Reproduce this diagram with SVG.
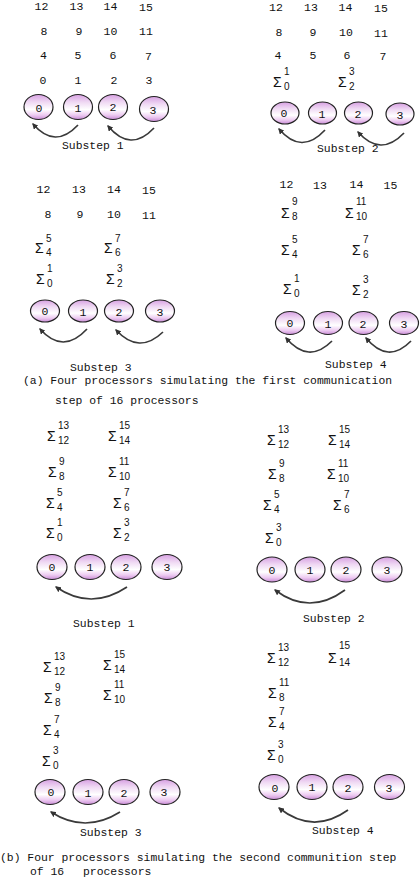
<svg xmlns="http://www.w3.org/2000/svg" width="420" height="888" viewBox="0 0 420 888">
<defs>
<linearGradient id="pg" x1="0" y1="0" x2="0" y2="1">
<stop offset="0" stop-color="#d7a0e2"/>
<stop offset="0.3" stop-color="#efd8f3"/>
<stop offset="0.6" stop-color="#ffffff"/>
<stop offset="0.82" stop-color="#edcbf1"/>
<stop offset="1" stop-color="#c98bd6"/>
</linearGradient>
<marker id="ah" viewBox="0 0 10 10" refX="8" refY="5" markerWidth="6" markerHeight="6" orient="auto" markerUnits="userSpaceOnUse">
<path d="M0,0 L10,5 L0,10 Z" fill="#333"/>
</marker>
</defs>
<style>
text{fill:#111}
.n{font-family:"Liberation Mono",monospace;font-size:11.5px;text-anchor:middle}
.t{font-family:"Liberation Mono",monospace;font-size:11.4px}
.s{font-family:"Liberation Sans",Arial,sans-serif;font-size:14px}
.c{font-family:"Liberation Sans",Arial,sans-serif;font-size:10px}
.e{fill:url(#pg);stroke:#222;stroke-width:1.2}
.a{fill:none;stroke:#3a3a3a;stroke-width:1.7;marker-end:url(#ah)}
</style>

<!-- (a) Substep 1 -->
<g id="a1-data">
<text class="n" x="41.5" y="10">12</text><text class="n" x="76.5" y="10">13</text><text class="n" x="110.5" y="10">14</text><text class="n" x="146" y="11">15</text>
<text class="n" x="44" y="34.5">8</text><text class="n" x="79" y="34.5">9</text><text class="n" x="110.5" y="34.5">10</text><text class="n" x="146" y="35">11</text>
<text class="n" x="43.5" y="59">4</text><text class="n" x="78" y="59">5</text><text class="n" x="113" y="59">6</text><text class="n" x="148.5" y="59.5">7</text>
<text class="n" x="43" y="84">0</text><text class="n" x="78" y="84">1</text><text class="n" x="114" y="84">2</text><text class="n" x="149" y="84">3</text>
</g>
<g id="a1-p0"><ellipse class="e" cx="38.5" cy="107" rx="14.5" ry="12.5"/><text class="n" x="39" y="112">0</text></g>
<g id="a1-p1"><ellipse class="e" cx="78" cy="107" rx="14.5" ry="12.5"/><text class="n" x="78" y="112">1</text></g>
<g id="a1-p2"><ellipse class="e" cx="113" cy="107" rx="14.5" ry="12.5"/><text class="n" x="113" y="111">2</text></g>
<g id="a1-p3"><ellipse class="e" cx="154" cy="109" rx="14.5" ry="12.5"/><text class="n" x="153" y="114">3</text></g>
<text class="t" x="62" y="149">Substep 1</text>

<!-- (a) Substep 2 -->
<g id="a2-data">
<text class="n" x="276" y="10.5">12</text><text class="n" x="311" y="10.5">13</text><text class="n" x="345.5" y="10.5">14</text><text class="n" x="381" y="12">15</text>
<text class="n" x="279" y="36">8</text><text class="n" x="313" y="36">9</text><text class="n" x="346" y="36">10</text><text class="n" x="381" y="37">11</text>
<text class="n" x="278" y="59">4</text><text class="n" x="313" y="59">5</text><text class="n" x="347" y="59">6</text><text class="n" x="383" y="60">7</text>
<text class="s" x="273" y="87">Σ<tspan class="c" x="284" y="75">1</tspan><tspan class="c" x="284" y="90">0</tspan></text>
<text class="s" x="338" y="87">Σ<tspan class="c" x="349" y="75">3</tspan><tspan class="c" x="349" y="90">2</tspan></text>
</g>
<g id="a2-p0"><ellipse class="e" cx="285" cy="113" rx="14" ry="11"/><text class="n" x="284" y="117">0</text></g>
<g id="a2-p1"><ellipse class="e" cx="322.5" cy="113" rx="14" ry="11"/><text class="n" x="322" y="117.5">1</text></g>
<g id="a2-p2"><ellipse class="e" cx="358.5" cy="113" rx="14" ry="11"/><text class="n" x="358" y="118">2</text></g>
<g id="a2-p3"><ellipse class="e" cx="400" cy="114" rx="14" ry="11"/><text class="n" x="400" y="118.5">3</text></g>
<text class="t" x="317" y="152">Substep 2</text>

<!-- (a) Substep 3 -->
<g id="a3-data">
<text class="n" x="43.5" y="193">12</text><text class="n" x="79" y="193">13</text><text class="n" x="114" y="193">14</text><text class="n" x="149" y="194">15</text>
<text class="n" x="48" y="218">8</text><text class="n" x="80" y="218">9</text><text class="n" x="114" y="218">10</text><text class="n" x="149" y="218.5">11</text>
<text class="s" x="35" y="253">Σ<tspan class="c" x="46" y="242">5</tspan><tspan class="c" x="46" y="256">4</tspan></text>
<text class="s" x="104" y="253">Σ<tspan class="c" x="115" y="242">7</tspan><tspan class="c" x="115" y="256">6</tspan></text>
<text class="s" x="36" y="284">Σ<tspan class="c" x="47" y="272">1</tspan><tspan class="c" x="47" y="287">0</tspan></text>
<text class="s" x="106" y="284">Σ<tspan class="c" x="117" y="272">3</tspan><tspan class="c" x="117" y="287">2</tspan></text>
</g>
<g id="a3-p0"><ellipse class="e" cx="45" cy="311" rx="14.5" ry="11"/><text class="n" x="45" y="315">0</text></g>
<g id="a3-p1"><ellipse class="e" cx="83" cy="311" rx="14.5" ry="11"/><text class="n" x="83" y="315.5">1</text></g>
<g id="a3-p2"><ellipse class="e" cx="119" cy="311" rx="14.5" ry="11"/><text class="n" x="119" y="315.5">2</text></g>
<g id="a3-p3"><ellipse class="e" cx="160" cy="311" rx="14.5" ry="11"/><text class="n" x="160" y="315.5">3</text></g>
<text class="t" x="70" y="371">Substep 3</text>

<!-- (a) Substep 4 -->
<g id="a4-data">
<text class="n" x="286.5" y="188">12</text><text class="n" x="320" y="189">13</text><text class="n" x="356.5" y="188">14</text><text class="n" x="390.5" y="189">15</text>
<text class="s" x="281" y="218">Σ<tspan class="c" x="292" y="205">9</tspan><tspan class="c" x="292" y="220">8</tspan></text>
<text class="s" x="345" y="218">Σ<tspan class="c" x="356" y="205">11</tspan><tspan class="c" x="356" y="220">10</tspan></text>
<text class="s" x="281" y="255">Σ<tspan class="c" x="292" y="243">5</tspan><tspan class="c" x="292" y="258">4</tspan></text>
<text class="s" x="352" y="255">Σ<tspan class="c" x="363" y="243">7</tspan><tspan class="c" x="363" y="258">6</tspan></text>
<text class="s" x="283" y="294">Σ<tspan class="c" x="294" y="282">1</tspan><tspan class="c" x="294" y="297">0</tspan></text>
<text class="s" x="352" y="295">Σ<tspan class="c" x="363" y="283">3</tspan><tspan class="c" x="363" y="298">2</tspan></text>
</g>
<g id="a4-p0"><ellipse class="e" cx="290" cy="323" rx="14.5" ry="11.5"/><text class="n" x="290" y="327">0</text></g>
<g id="a4-p1"><ellipse class="e" cx="328" cy="323" rx="14.5" ry="11.5"/><text class="n" x="328" y="327.5">1</text></g>
<g id="a4-p2"><ellipse class="e" cx="363.5" cy="323" rx="14.5" ry="11.5"/><text class="n" x="363" y="327.5">2</text></g>
<g id="a4-p3"><ellipse class="e" cx="404" cy="323" rx="14.5" ry="11.5"/><text class="n" x="404" y="327.5">3</text></g>
<text class="t" x="325" y="368">Substep 4</text>

<g id="caption-a">
<text class="t" x="23" y="384">(a) Four processors simulating the first communication</text>
<text class="t" x="55" y="404">step of 16 processors</text>
</g>

<!-- (b) Substep 1 -->
<g id="b1-data">
<text class="s" x="47" y="441">Σ<tspan class="c" x="58" y="429">13</tspan><tspan class="c" x="58" y="444">12</tspan></text>
<text class="s" x="108" y="441">Σ<tspan class="c" x="119" y="429">15</tspan><tspan class="c" x="119" y="444">14</tspan></text>
<text class="s" x="48" y="477">Σ<tspan class="c" x="59" y="465">9</tspan><tspan class="c" x="59" y="480">8</tspan></text>
<text class="s" x="108" y="477">Σ<tspan class="c" x="119" y="465">11</tspan><tspan class="c" x="119" y="480">10</tspan></text>
<text class="s" x="46" y="508">Σ<tspan class="c" x="57" y="496">5</tspan><tspan class="c" x="57" y="511">4</tspan></text>
<text class="s" x="113" y="508">Σ<tspan class="c" x="124" y="496">7</tspan><tspan class="c" x="124" y="511">6</tspan></text>
<text class="s" x="46" y="538">Σ<tspan class="c" x="57" y="526">1</tspan><tspan class="c" x="57" y="541">0</tspan></text>
<text class="s" x="113" y="538">Σ<tspan class="c" x="124" y="526">3</tspan><tspan class="c" x="124" y="541">2</tspan></text>
</g>
<g id="b1-p0"><ellipse class="e" cx="52" cy="567" rx="15" ry="12.5"/><text class="n" x="52" y="571">0</text></g>
<g id="b1-p1"><ellipse class="e" cx="90" cy="567" rx="15" ry="12.5"/><text class="n" x="90" y="571">1</text></g>
<g id="b1-p2"><ellipse class="e" cx="126" cy="567" rx="15" ry="12.5"/><text class="n" x="126" y="571">2</text></g>
<g id="b1-p3"><ellipse class="e" cx="167" cy="567" rx="15" ry="12.5"/><text class="n" x="167" y="571">3</text></g>
<text class="t" x="73" y="627">Substep 1</text>

<!-- (b) Substep 2 -->
<g id="b2-data">
<text class="s" x="267" y="445">Σ<tspan class="c" x="278" y="433">13</tspan><tspan class="c" x="278" y="448">12</tspan></text>
<text class="s" x="328" y="445">Σ<tspan class="c" x="339" y="433">15</tspan><tspan class="c" x="339" y="448">14</tspan></text>
<text class="s" x="268" y="479">Σ<tspan class="c" x="279" y="467">9</tspan><tspan class="c" x="279" y="482">8</tspan></text>
<text class="s" x="327" y="479">Σ<tspan class="c" x="338" y="467">11</tspan><tspan class="c" x="338" y="482">10</tspan></text>
<text class="s" x="263" y="510">Σ<tspan class="c" x="274" y="498">5</tspan><tspan class="c" x="274" y="513">4</tspan></text>
<text class="s" x="333" y="510">Σ<tspan class="c" x="344" y="498">7</tspan><tspan class="c" x="344" y="513">6</tspan></text>
<text class="s" x="265" y="543">Σ<tspan class="c" x="276" y="531">3</tspan><tspan class="c" x="276" y="546">0</tspan></text>
</g>
<g id="b2-p0"><ellipse class="e" cx="272" cy="569.5" rx="15" ry="12.5"/><text class="n" x="272" y="574">0</text></g>
<g id="b2-p1"><ellipse class="e" cx="310" cy="569.5" rx="15" ry="12.5"/><text class="n" x="310" y="574">1</text></g>
<g id="b2-p2"><ellipse class="e" cx="346" cy="569.5" rx="15" ry="12.5"/><text class="n" x="346" y="574">2</text></g>
<g id="b2-p3"><ellipse class="e" cx="387" cy="569.5" rx="15" ry="12.5"/><text class="n" x="387" y="574">3</text></g>
<text class="t" x="303" y="622">Substep 2</text>

<!-- (b) Substep 3 -->
<g id="b3-data">
<text class="s" x="43" y="672">Σ<tspan class="c" x="54" y="660">13</tspan><tspan class="c" x="54" y="675">12</tspan></text>
<text class="s" x="103" y="670">Σ<tspan class="c" x="114" y="658">15</tspan><tspan class="c" x="114" y="673">14</tspan></text>
<text class="s" x="44" y="703">Σ<tspan class="c" x="55" y="691">9</tspan><tspan class="c" x="55" y="706">8</tspan></text>
<text class="s" x="103" y="700">Σ<tspan class="c" x="114" y="688">11</tspan><tspan class="c" x="114" y="703">10</tspan></text>
<text class="s" x="43" y="735">Σ<tspan class="c" x="54" y="723">7</tspan><tspan class="c" x="54" y="738">4</tspan></text>
<text class="s" x="42" y="766">Σ<tspan class="c" x="53" y="754">3</tspan><tspan class="c" x="53" y="769">0</tspan></text>
</g>
<g id="b3-p0"><ellipse class="e" cx="50" cy="792" rx="15" ry="12.5"/><text class="n" x="51" y="796">0</text></g>
<g id="b3-p1"><ellipse class="e" cx="88" cy="792" rx="15" ry="12.5"/><text class="n" x="88" y="796.5">1</text></g>
<g id="b3-p2"><ellipse class="e" cx="124" cy="792" rx="15" ry="12.5"/><text class="n" x="124" y="796.5">2</text></g>
<g id="b3-p3"><ellipse class="e" cx="165" cy="792" rx="15" ry="12.5"/><text class="n" x="164" y="796">3</text></g>
<text class="t" x="80" y="836">Substep 3</text>

<!-- (b) Substep 4 -->
<g id="b4-data">
<text class="s" x="267" y="663">Σ<tspan class="c" x="278" y="651">13</tspan><tspan class="c" x="278" y="666">12</tspan></text>
<text class="s" x="328" y="663">Σ<tspan class="c" x="339" y="649">15</tspan><tspan class="c" x="339" y="666">14</tspan></text>
<text class="s" x="268" y="698">Σ<tspan class="c" x="279" y="686">11</tspan><tspan class="c" x="279" y="701">8</tspan></text>
<text class="s" x="268" y="727">Σ<tspan class="c" x="279" y="715">7</tspan><tspan class="c" x="279" y="730">4</tspan></text>
<text class="s" x="267" y="760">Σ<tspan class="c" x="278" y="748">3</tspan><tspan class="c" x="278" y="763">0</tspan></text>
</g>
<g id="b4-p0"><ellipse class="e" cx="274" cy="787" rx="15" ry="12.5"/><text class="n" x="275" y="791.5">0</text></g>
<g id="b4-p1"><ellipse class="e" cx="312" cy="787" rx="15" ry="12.5"/><text class="n" x="312" y="791">1</text></g>
<g id="b4-p2"><ellipse class="e" cx="348" cy="787" rx="15" ry="12.5"/><text class="n" x="348" y="791.5">2</text></g>
<g id="b4-p3"><ellipse class="e" cx="389.5" cy="787" rx="15" ry="12.5"/><text class="n" x="389" y="792">3</text></g>
<text class="t" x="312" y="834">Substep 4</text>

<g id="caption-b">
<text class="t" x="0" y="861">(b) Four processors simulating the second communition step</text>
<text class="t" y="875"><tspan x="30">of 16</tspan><tspan x="83">processors</tspan></text>
</g>

<g id="connectors">
<path class="a" d="M78,125 Q55,149.5 33,124"/>
<path class="a" d="M154,128 Q130.5,153 108,126"/>
<path class="a" d="M325,130 Q301.5,155.5 279,129"/>
<path class="a" d="M404,133 Q380.5,157.5 358,132"/>
<path class="a" d="M87,329 Q63,355 40,329"/>
<path class="a" d="M163,332 Q139,355 116,330"/>
<path class="a" d="M332,341 Q308.5,364.5 286,338"/>
<path class="a" d="M411,341 Q388,364.5 366,338"/>
<path class="a" d="M127,587 Q91,611 56,587"/>
<path class="a" d="M345,590 Q309.5,616 275,590"/>
<path class="a" d="M120,812 Q85,834 51,812"/>
<path class="a" d="M348,810 Q313,835 279,808"/>
</g>
</svg>
